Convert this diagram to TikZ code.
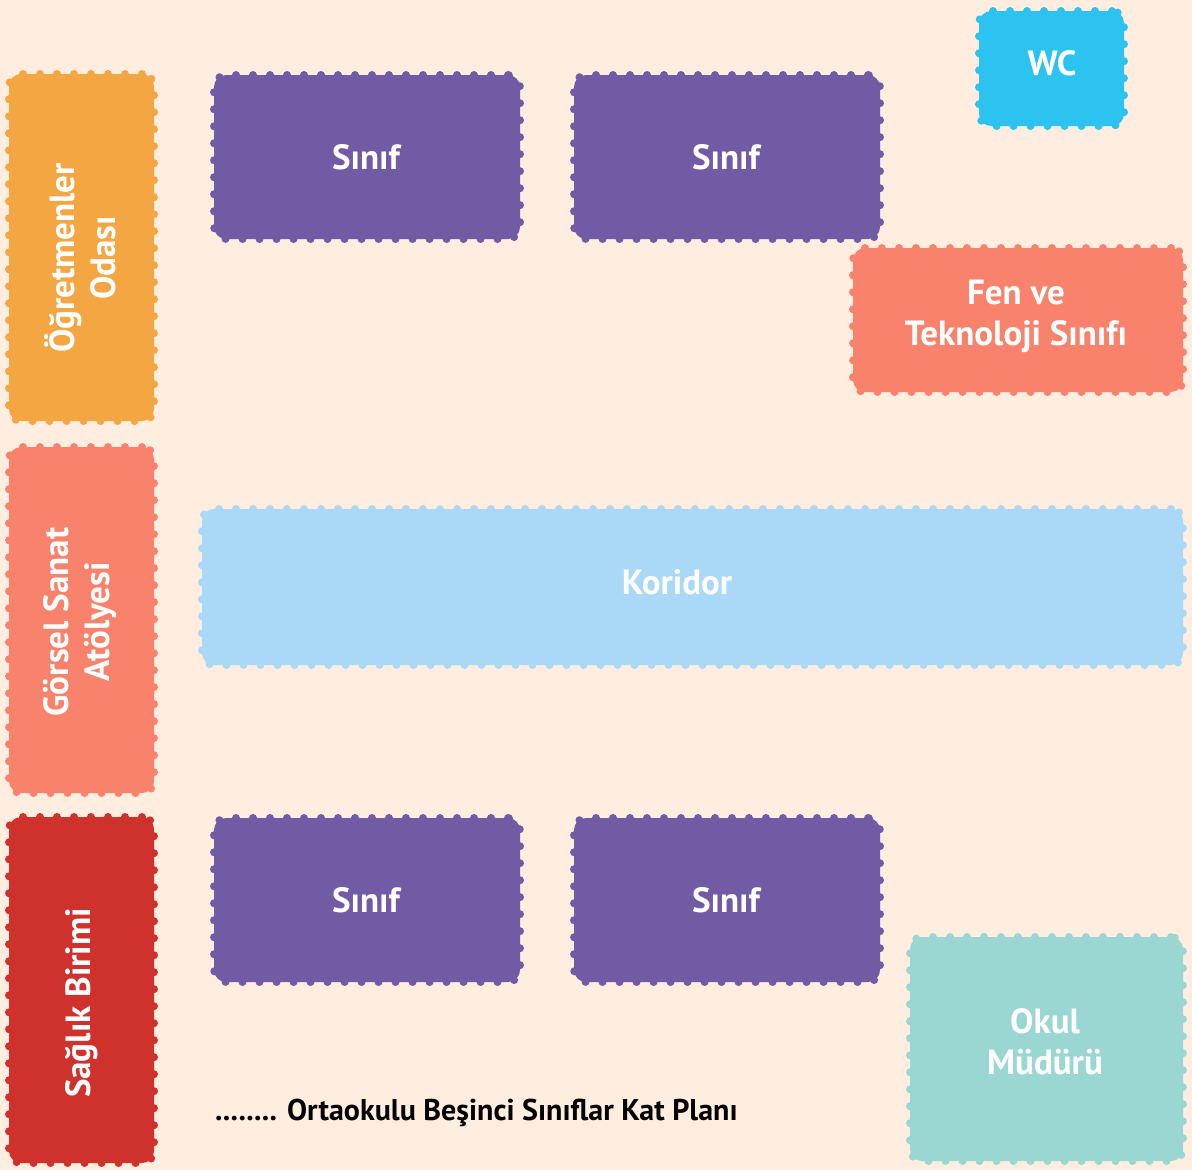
\documentclass[tikz,border=0pt]{standalone}
\usepackage{fontspec}
\setmainfont{PT Sans}
\definecolor{bgc}{HTML}{FFEDE0}
\definecolor{orangec}{HTML}{F3A641}
\definecolor{purplec}{HTML}{725BA5}
\definecolor{wcblue}{HTML}{2DC3F1}
\definecolor{salmonc}{HTML}{F9826C}
\definecolor{lightb}{HTML}{A9D9F7}
\definecolor{redc}{HTML}{CF312D}
\definecolor{tealc}{HTML}{9AD6D2}
\tikzset{
  room/.style={rectangle,inner sep=0pt,outer sep=0pt,draw=#1,fill=#1,line width=8pt,line cap=round,
    dash pattern=on 0pt off 17pt,rounded corners=12pt},
  lab/.style={text=white,font=\fontsize{35}{41}\selectfont\bfseries,align=center,inner sep=0pt},
}
\newcommand{\roombox}[6]{% name, x0,y0,x1,y1, colour
  \pgfmathsetmacro{\rw}{#4-#2}\pgfmathsetmacro{\rh}{#5-#3}
  \pgfmathsetmacro{\rx}{(#2+#4)/2}\pgfmathsetmacro{\ry}{(#3+#5)/2}
  \node[room=#6,minimum width=\rw pt,minimum height=\rh pt] (#1) at (\rx,\ry) {};
}
\begin{document}
\begin{tikzpicture}[x=1pt,y=-1pt]
\useasboundingbox (0,0) rectangle (1192,1170);
\fill[bgc] (0,0) rectangle (1192,1170);
\roombox{wc}{979}{11}{1124}{126}{wcblue}
\roombox{s1}{214}{75}{520}{239}{purplec}
\roombox{s2}{574}{75}{880}{239}{purplec}
\roombox{fen}{853}{248}{1183}{392}{salmonc}
\roombox{kor}{202}{509}{1183}{665}{lightb}
\roombox{ogr}{9}{74}{154}{421}{orangec}
\roombox{gor}{9}{447}{154}{793}{salmonc}
\roombox{sag}{9}{817}{154}{1163}{redc}
\roombox{s3}{214}{818}{520}{982}{purplec}
\roombox{s4}{574}{818}{880}{982}{purplec}
\roombox{oku}{910}{937}{1183}{1161}{tealc}
\node[lab] (lwc) at (1052,63) {WC};
\node[lab] (ls1) at (366,157) {Sınıf};
\node[lab] (ls2) at (726,157) {Sınıf};
\node[lab] (lfen) at (1016,316) {Fen ve\\Teknoloji Sınıfı};
\node[lab] (lkor) at (677,582) {Koridor};
\node[lab,rotate=90] (logr) at (80,258) {Öğretmenler\\Odası};
\node[lab,rotate=90] (lgor) at (80,622) {Görsel Sanat\\Atölyesi};
\node[lab,rotate=90] (lsag) at (82,1003) {Sağlık Birimi};
\node[lab] (ls3) at (366,900) {Sınıf};
\node[lab] (ls4) at (726,900) {Sınıf};
\node[lab] (loku) at (1045,1042) {Okul\\Müdürü};
\node[anchor=west,inner sep=0pt,text=black,font=\fontsize{30}{36}\selectfont\bfseries] (cap) at (215,1113) {........ Ortaokulu Beşinci Sınıflar Kat Planı};
\end{tikzpicture}
\end{document}
